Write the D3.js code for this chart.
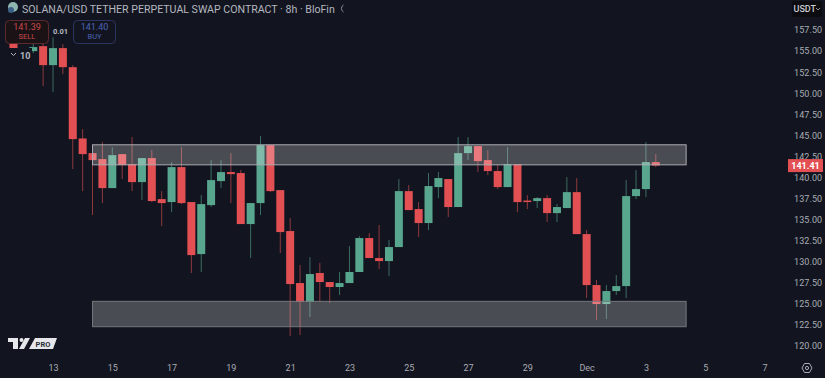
<!DOCTYPE html>
<html>
<head>
<meta charset="utf-8">
<script src="https://cdn.jsdelivr.net/npm/d3@7"></script>
<style>
  html, body { margin: 0; padding: 0; background: #12151f; overflow: hidden; }
  text { font-family: Roboto, "Liberation Sans", sans-serif; }
</style>
</head>
<body>
<div id="chart"></div>
<script>
// Candles, one 8h bar per entry
var barIndex = [-4,-3,-2,-1,0,1,2,3,4,5,6,7,8,9,10,11,12,13,14,15,16,17,18,19,20,21,22,23,24,25,26,27,28,29,30,31,32,33,34,35,36,37,38,39,40,41,42,43,44,45,46,47,48,49,50,51,52,53,54,55,56,57,58,59,60,61];
var opens  = [156.89,157.0,154.99,155.58,153.33,155.35,153.09,144.63,142.89,142.18,138.74,142.77,141.59,139.45,142.30,137.43,137.08,141.23,137.08,130.91,136.72,139.57,140.64,140.52,134.47,136.96,143.84,138.50,133.64,127.47,125.22,128.66,127.59,127.00,127.47,128.78,132.81,130.44,130.08,131.74,138.38,136.25,134.59,138.86,139.81,136.49,142.89,143.72,142.06,140.76,138.86,141.59,137.26,137.20,137.55,135.77,136.37,138.26,133.28,127.23,124.98,126.52,127.11,137.79,138.62,141.82];
var closes = [155.23,156.3,155.47,153.33,155.35,153.09,144.55,142.77,142.06,138.74,142.65,141.47,139.45,142.30,137.20,136.96,141.23,136.96,130.79,136.84,139.69,140.64,140.40,134.47,136.96,143.84,138.38,133.52,127.35,125.22,128.54,127.59,127.00,127.47,128.78,132.81,130.44,130.08,131.74,138.38,136.13,134.59,138.98,139.93,136.49,142.89,143.72,141.94,140.76,138.86,141.59,137.08,137.20,137.55,135.77,136.49,138.26,133.28,127.23,124.98,126.52,127.11,137.79,138.62,141.82,141.41];
var highs  = [157.48,157.2,156.06,156.30,156.65,155.82,153.33,145.74,143.84,144.20,143.60,142.77,144.79,142.30,143.25,138.38,141.82,143.60,137.08,137.91,142.06,142.06,142.89,140.88,136.96,144.91,143.84,138.50,135.18,129.61,130.55,129.84,127.59,128.78,131.86,133.05,133.40,134.35,132.57,139.81,139.09,137.08,140.52,140.64,139.81,144.79,144.79,143.72,143.25,141.47,143.60,141.59,137.91,137.67,137.91,136.84,140.04,139.93,133.76,127.83,127.23,128.42,139.69,140.88,144.20,142.77];
var lows   = [154.87,156.0,154.75,150.84,150.13,152.26,141.00,138.38,135.54,136.96,138.74,139.81,138.38,137.32,137.08,134.23,135.89,136.84,128.66,128.78,136.49,138.74,136.96,134.47,130.44,135.54,138.26,131.03,121.18,121.30,123.44,125.22,125.10,126.05,127.47,128.78,130.44,129.13,128.30,131.74,136.13,132.93,133.76,137.55,135.30,136.49,142.06,140.64,140.28,138.62,138.86,135.89,136.25,136.37,134.71,134.71,136.37,133.28,125.69,123.08,123.20,126.05,125.69,137.43,137.67,141.23];

// Support and resistance zones
var zoneStart = 4, zoneEnd = 64.07;
var zoneTops = [143.88, 125.30];
var zoneBottoms = [141.50, 122.29];

// Axis labels
var priceTicks = [120,122.5,125,127.5,130,132.5,135,137.5,140,142.5,145,147.5,150,152.5,155,157.5];
var dateTickIndex = [0,6,12,18,24,30,36,42,48,54,60,66,72];
var dateTickLabels = ["13","15","17","19","21","23","25","27","29","Dec","3","5","7"];
var lastPrice = 141.41;

var width = 825, height = 378;

var svg = d3.select("#chart")
  .append("svg")
    .attr("width", width)
    .attr("height", height);

svg.append("rect")
    .attr("width", width)
    .attr("height", height)
    .attr("fill", "#12151f");

// index 0 is the 13th, three bars a day
var x = d3.scaleLinear().domain([0, 72]).range([53, 764.5]);
var y = d3.scaleLinear().domain([120, 157.5]).range([346, 30]);

var red = "#e25053", green = "#57a68d";
var bars = barIndex.map(function(d, i) {
  return {i: d, o: opens[i], c: closes[i], h: highs[i], l: lows[i]};
});
var barColor = function(d) { return d.c > d.o ? green : red; };

// Wicks
svg.append("g")
  .selectAll("line")
  .data(bars)
  .enter()
  .append("line")
    .attr("x1", function(d) { return x(d.i); })
    .attr("x2", function(d) { return x(d.i); })
    .attr("y1", function(d) { return y(d.h); })
    .attr("y2", function(d) { return y(d.l); })
    .attr("stroke", barColor)
    .attr("stroke-opacity", 0.6)
    .attr("stroke-width", 1);

// Bodies
svg.append("g")
  .selectAll("rect")
  .data(bars)
  .enter()
  .append("rect")
    .attr("x", function(d) { return x(d.i) - 4; })
    .attr("width", 8)
    .attr("y", function(d) { return y(Math.max(d.o, d.c)); })
    .attr("height", function(d) { return Math.max(1.5, Math.abs(y(d.o) - y(d.c))); })
    .attr("fill", barColor);

// Zones sit above the candles
svg.append("g")
  .selectAll("rect")
  .data(zoneTops)
  .enter()
  .append("rect")
    .attr("x", x(zoneStart))
    .attr("width", x(zoneEnd) - x(zoneStart))
    .attr("y", function(d) { return y(d); })
    .attr("height", function(d, i) { return y(zoneBottoms[i]) - y(d); })
    .attr("fill", "#ffffff")
    .attr("fill-opacity", 0.24)
    .attr("stroke", function(d, i) { return i == 0 ? "#a9abb1" : "#74767d"; })
    .attr("stroke-width", 1);

// Price axis
var yAxis = svg.append("g")
    .attr("transform", "translate(792,0)")
    .call(d3.axisRight(y).tickValues(priceTicks).tickSize(0).tickPadding(2).tickFormat(d3.format(".2f")));
yAxis.select(".domain").remove();
yAxis.selectAll("text")
    .style("font-size", "9px")
    .style("letter-spacing", "0.1px")
    .attr("fill", "#a9acb5");

// Date axis
var xAxis = svg.append("g")
    .attr("transform", "translate(0,365)")
    .call(d3.axisBottom(x).tickValues(dateTickIndex).tickSize(0).tickPadding(0)
      .tickFormat(function(d, i) { return dateTickLabels[i]; }));
xAxis.select(".domain").remove();
xAxis.selectAll("text")
    .style("font-size", "9px")
    .attr("fill", "#a9acb5");

// Last price tag
svg.append("rect")
    .attr("x", 788).attr("y", y(lastPrice) - 6.5)
    .attr("width", 35).attr("height", 13)
    .attr("fill", red);
svg.append("text")
    .attr("x", 805.5).attr("y", y(lastPrice) + 3.5)
    .attr("text-anchor", "middle")
    .attr("fill", "#ffffff")
    .style("font-size", "9px")
    .style("font-weight", 700)
    .text(d3.format(".2f")(lastPrice));

// Currency button
svg.append("rect")
    .attr("x", 792).attr("y", 1)
    .attr("width", 30).attr("height", 16)
    .attr("rx", 2)
    .attr("fill", "#0c0c10");
svg.append("text")
    .attr("x", 793.5).attr("y", 12)
    .attr("fill", "#c8cad0")
    .style("font-size", "9px")
    .style("font-weight", 500)
    .text("USDT");
svg.append("path")
    .attr("d", "M816 8l2 2 2-2")
    .attr("fill", "none")
    .attr("stroke", "#8d9099");

// Title
svg.append("text")
    .attr("x", 22).attr("y", 12.5)
    .attr("fill", "#b4b7bf")
    .style("font-size", "10.6px")
    .text("SOLANA/USD TETHER PERPETUAL SWAP CONTRACT · 8h · BloFin");
svg.append("path")
    .attr("d", "M343.5 5a4 4 0 0 0 0 7")
    .attr("fill", "none")
    .attr("stroke", "#8d9099");
svg.append("circle")
    .attr("cx", 13).attr("cy", 7).attr("r", 5)
    .attr("fill", "#8fb7b0");
svg.append("circle")
    .attr("cx", 11).attr("cy", 10).attr("r", 3)
    .attr("fill", "#3c5f86");

// Sell and buy boxes
var orderBox = svg.append("g");
orderBox.append("rect")
    .attr("x", 5.5).attr("y", 20.5)
    .attr("width", 43).attr("height", 23).attr("rx", 4)
    .attr("fill", "#1b1215")
    .attr("stroke", "#5c2a2e");
orderBox.append("text").attr("x", 27).attr("y", 30).attr("text-anchor", "middle")
    .attr("fill", "#c9494c").style("font-size", "9px").text("141.39");
orderBox.append("text").attr("x", 27).attr("y", 39).attr("text-anchor", "middle")
    .attr("fill", "#c9494c").style("font-size", "7.5px").text("SELL");
orderBox.append("rect")
    .attr("x", 73.5).attr("y", 20.5)
    .attr("width", 42).attr("height", 23).attr("rx", 4)
    .attr("fill", "#12151f")
    .attr("stroke", "#2c3560");
orderBox.append("text").attr("x", 94.5).attr("y", 30).attr("text-anchor", "middle")
    .attr("fill", "#4d63b8").style("font-size", "9px").text("141.40");
orderBox.append("text").attr("x", 94.5).attr("y", 39).attr("text-anchor", "middle")
    .attr("fill", "#4d63b8").style("font-size", "7.5px").text("BUY");
orderBox.append("text").attr("x", 60.5).attr("y", 34).attr("text-anchor", "middle")
    .attr("fill", "#b4b7bf").style("font-size", "7.5px").style("font-weight", 700).text("0.01");

// Indicator collapse button
svg.append("rect")
    .attr("x", 7).attr("y", 48)
    .attr("width", 25).attr("height", 15)
    .attr("fill", "#12151f");
svg.append("path")
    .attr("d", "M11 53l2.5 2.5 2.5-2.5")
    .attr("fill", "none")
    .attr("stroke", "#b4b7bf");
svg.append("text")
    .attr("x", 20).attr("y", 59)
    .attr("fill", "#b4b7bf")
    .style("font-size", "9px")
    .style("font-weight", 700)
    .text("10");

// TradingView mark
svg.append("path")
    .attr("d", "M8 338h10v11h-5v-7h-5zM25 338h5l-6 11h-5z")
    .attr("fill", "#e6e7ea");
svg.append("circle")
    .attr("cx", 21.5).attr("cy", 340).attr("r", 2)
    .attr("fill", "#e6e7ea");
svg.append("path")
    .attr("d", "M35 338h22l-4 11h-24z")
    .attr("fill", "#e6e7ea");
svg.append("text")
    .attr("x", 43).attr("y", 346.5)
    .attr("text-anchor", "middle")
    .attr("fill", "#2a2d36")
    .style("font-size", "7.5px")
    .style("font-weight", 700)
    .text("PRO");

// Settings icon
svg.append("path")
    .attr("d", "M802 368l2.5-4.5h5l2.5 4.5-2.5 4.5h-5z")
    .attr("fill", "none")
    .attr("stroke", "#a9acb5");
svg.append("circle")
    .attr("cx", 807).attr("cy", 368).attr("r", 1.6)
    .attr("fill", "none")
    .attr("stroke", "#a9acb5");
</script>
</body>
</html>
